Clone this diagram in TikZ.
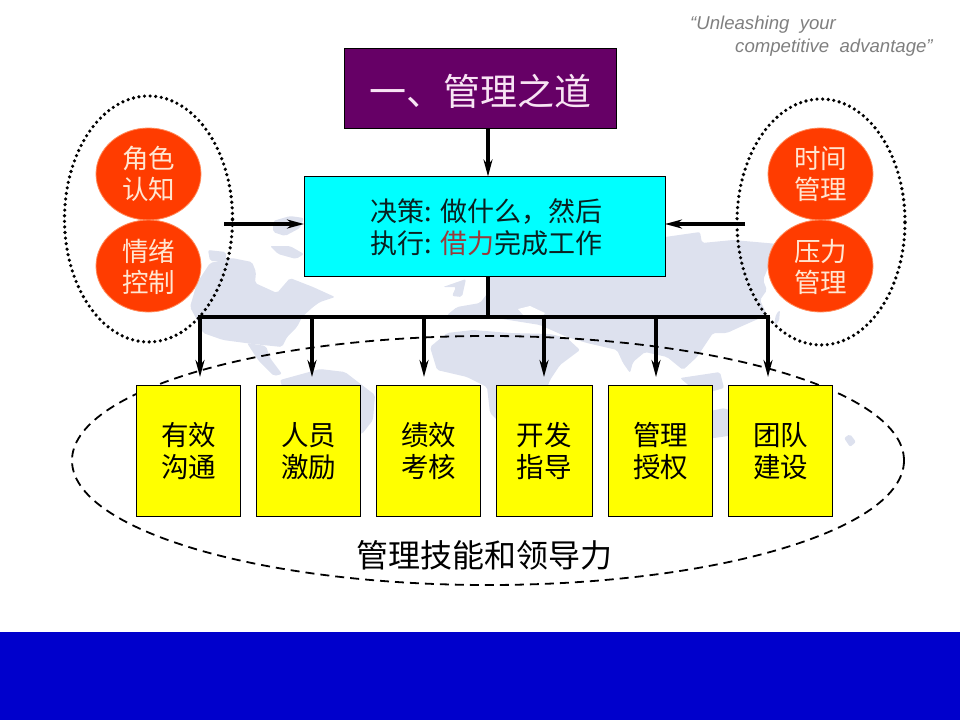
\documentclass[tikz,border=0pt]{standalone}
\usepackage{fontspec}
\setmainfont{Liberation Sans}
\newfontfamily\cjk{Noto Sans CJK SC}
\usetikzlibrary{shapes.geometric,arrows.meta}
\definecolor{mapgrey}{HTML}{DDE1EE}
\definecolor{bandblue}{HTML}{0000CC}
\definecolor{plum}{HTML}{660066}
\definecolor{disc}{HTML}{FF3C00}
\definecolor{discedge}{HTML}{FF8A5A}
\definecolor{disctext}{HTML}{FFE6D2}
\definecolor{titletext}{HTML}{F8E4F4}
\definecolor{borrow}{HTML}{9A3A3A}
\definecolor{quotegrey}{HTML}{7F7F7F}
\definecolor{purecyan}{HTML}{00FFFF}
\definecolor{pureyellow}{HTML}{FFFF00}
\definecolor{inkdark}{HTML}{0A2020}
\newcommand{\topstrut}[1]{\rule{0pt}{#1pt}}
\tikzset{
  land/.style={fill=mapgrey,draw=none,rounded corners=2pt},
  skillbox/.style={draw=black,line width=0.9pt,fill=pureyellow,minimum height=131pt,inner sep=0pt,outer sep=0pt,align=center,font=\cjk\fontsize{27.5}{32}\selectfont},
  discnode/.style={ellipse,draw=discedge,line width=0.8pt,fill=disc,minimum width=105pt,minimum height=92pt,inner sep=0pt,outer sep=0pt,align=center,text=disctext,font=\cjk\fontsize{26.5}{31}\selectfont},
  dotring/.style={ellipse,draw=black,line width=3.6pt,line cap=round,dash pattern=on 0pt off 5.6pt,minimum width=168pt,minimum height=246pt,inner sep=0pt},
  conn/.style={line width=4pt,-{Stealth[length=17pt,width=9pt]}},
  bar/.style={line width=4pt,line cap=butt},
}
\begin{document}
\begin{tikzpicture}[x=1pt,y=-1pt]
\useasboundingbox (0,0) rectangle (960,720);
% world map
\fill[land] (273,221) -- (290,216) -- (304,218) -- (300,228) -- (285,236) -- (273,232) -- cycle;
\fill[land] (208,250) -- (226,252) -- (226,261) -- (210,261) -- cycle;
\fill[land] (270,246) -- (290,246) -- (304,254) -- (296,259) -- (278,254) -- cycle;
\fill[land] (190,307) -- (197,283) -- (210,263) -- (232,258) -- (252,262) -- (256,272) -- (255,283) -- (277,293) -- (290,278) -- (313,287) -- (335,297) -- (320,302) -- (313,307) -- (302,317) -- (297,327) -- (287,337) -- (282,347) -- (253,344) -- (223,340) -- (203,333) -- (197,320) -- cycle;
\fill[land] (247,343) -- (266,346) -- (270,358) -- (282,374) -- (274,376) -- (258,360) -- cycle;
\fill[land] (280,380) -- (320,369) -- (345,372) -- (375,395) -- (373,420) -- (362,434) -- (300,440) -- cycle;
\fill[land] (443,287) -- (466,279) -- (462,297) -- (452,296) -- (456,287) -- cycle;
\fill[land] (447,315) -- (457,307) -- (480,303) -- (490,290) -- (490,262) -- (700,232) -- (702,243) -- (733,240) -- (767,243) -- (778,244) -- (763,280) -- (767,290) -- (760,300) -- (767,315) -- (740,327) -- (727,333) -- (713,333) -- (697,357) -- (683,370) -- (667,357) -- (645,352) -- (633,362) -- (630,373) -- (623,363) -- (617,350) -- (587,343) -- (567,337) -- (540,325) -- (490,317) -- cycle;
\fill[land] (430,347) -- (447,333) -- (473,330) -- (510,333) -- (550,334) -- (567,338) -- (580,350) -- (560,365) -- (550,380) -- (535,420) -- (500,423) -- (490,413) -- (487,387) -- (467,377) -- (437,370) -- cycle;
\fill[white] (518,309) -- (530,306) -- (545,313) -- (540,319) -- (524,316) -- cycle;
\fill[land] (776,314) -- (780,310) -- (779,322) -- (774,325) -- cycle;
\fill[land] (680,378) -- (720,372) -- (724,388) -- (700,395) -- cycle;
\fill[land] (690,415) -- (725,408) -- (745,420) -- (742,434) -- (700,440) -- cycle;
\fill[land] (844,438) -- (850,434) -- (856,442) -- (850,447) -- cycle;
% band
\fill[bandblue] (0,632) rectangle (960,720);
% rings
\node[dotring] (ringL) at (148.5,219) {};
\node[dotring] (ringR) at (821,222) {};
\node[ellipse,draw=black,line width=1.8pt,dash pattern=on 9pt off 6pt,minimum width=832pt,minimum height=249pt,inner sep=0pt] (ringS) at (488,460.5) {};
% main boxes
\node[draw=black,line width=0.9pt,fill=plum,minimum width=272.5pt,minimum height=80.5pt,inner sep=0pt,outer sep=0pt,text=titletext,font=\cjk\fontsize{37}{40}\selectfont] (dao) at (480.5,88.3) {\topstrut{37.5}一、管理之道};
\node[draw=black,line width=0.9pt,fill=purecyan,minimum width=361pt,minimum height=100pt,inner sep=0pt,outer sep=0pt,align=left,text=inkdark,font=\cjk\fontsize{27}{32}\selectfont] (core) at (484.5,226.5) {\hspace*{3.5pt}\topstrut{24}决策: 做什么，然后\\\hspace*{3.5pt}执行: \textcolor{borrow}{借力}完成工作};
% discs
\node[discnode] (d1) at (148.5,174) {\topstrut{23}角色\\认知};
\node[discnode] (d2) at (148.5,266) {\topstrut{24.5}情绪\\控制};
\node[discnode] (d3) at (820.5,174) {\topstrut{23}时间\\管理};
\node[discnode] (d4) at (820.5,266) {\topstrut{24.5}压力\\管理};
% skill boxes
\node[skillbox,minimum width=104.5pt] (s1) at (188.5,450.5) {\topstrut{25}有效\\沟通};
\node[skillbox,minimum width=104.5pt] (s2) at (308.5,450.5) {\topstrut{25}人员\\激励};
\node[skillbox,minimum width=104.5pt] (s3) at (428.5,450.5) {\topstrut{25}绩效\\考核};
\node[skillbox,minimum width=96pt] (s4) at (544,450.5) {\topstrut{25}开发\\指导};
\node[skillbox,minimum width=104.5pt] (s5) at (660.5,450.5) {\topstrut{25}管理\\授权};
\node[skillbox,minimum width=104.5pt] (s6) at (780.5,450.5) {\topstrut{25}团队\\建设};
\node[inner sep=0pt,font=\cjk\fontsize{32}{36}\selectfont] (lead) at (484,555) {管理技能和领导力};
% quote
\node[anchor=west,inner sep=0pt,text=quotegrey,font=\itshape\fontsize{18.6}{20}\selectfont] (q1) at (690,25) {“Unleashing\ \ your};
\node[anchor=west,inner sep=0pt,text=quotegrey,font=\itshape\fontsize{18.6}{20}\selectfont] (q2) at (735,48) {competitive\ \ advantage”};
% connectors
\coordinate (hub) at (488,317);
\coordinate (t0) at (core.south -| hub);
\coordinate (f1) at (224,224);
\coordinate (f2) at (745,224);
\coordinate (b1) at (200,317); \coordinate (e1) at (200,377);
\coordinate (b2) at (312,317); \coordinate (e2) at (312,377);
\coordinate (b3) at (424,317); \coordinate (e3) at (424,377);
\coordinate (b4) at (544,317); \coordinate (e4) at (544,377);
\coordinate (b5) at (656,317); \coordinate (e5) at (656,377);
\coordinate (b6) at (768,317); \coordinate (e6) at (768,377);
\draw[conn] (dao.south -| hub) -- (core.north -| hub);
\draw[conn] (f1) -- (core.west |- f1);
\draw[conn] (f2) -- (core.east |- f2);
\draw[bar] (t0) -- (hub);
\draw[bar] ([xshift=-2pt]b1) -- ([xshift=2pt]b6);
\foreach \i in {1,...,6} {\draw[conn] (b\i) -- (e\i);}
\end{tikzpicture}
\end{document}
